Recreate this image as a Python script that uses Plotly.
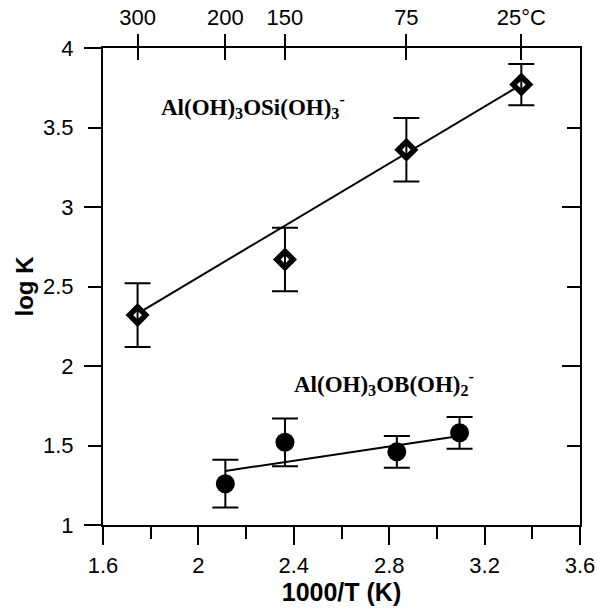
import plotly.graph_objects as go

# ---- data ----
si_x = [1.745, 2.363, 2.872, 3.354]
si_y = [2.32, 2.67, 3.36, 3.77]
si_err = [0.20, 0.20, 0.20, 0.13]

b_x = [2.113, 2.363, 2.832, 3.095]
b_y = [1.26, 1.52, 1.46, 1.58]
b_err = [0.15, 0.15, 0.10, 0.10]

si_fit_x = [1.745, 3.354]
si_fit_y = [2.33, 3.77]
b_fit_x = [2.113, 3.095]
b_fit_y = [1.34, 1.56]

top_vals = [1.745, 2.113, 2.363, 2.872, 3.354]
top_text = ["300", "200", "150", "75", "25°C"]

y_major = [1, 1.5, 2, 2.5, 3, 3.5, 4]
y_int = [1, 2, 3, 4]

XR = [1.6, 3.6]
YR = [1, 4]

SANS = "Liberation Sans"
SERIF = "Liberation Serif"

fig = go.Figure()

fig.add_trace(go.Scatter(x=si_fit_x, y=si_fit_y, mode="lines",
                         line=dict(color="black", width=2), showlegend=False))
fig.add_trace(go.Scatter(x=b_fit_x, y=b_fit_y, mode="lines",
                         line=dict(color="black", width=2), showlegend=False))

fig.add_trace(go.Scatter(x=si_x, y=si_y, mode="markers",
                         marker=dict(symbol="diamond", size=12.5, color="white",
                                     line=dict(color="black", width=5.5)),
                         showlegend=False))
fig.add_trace(go.Scatter(x=si_x, y=si_y, mode="markers",
                         marker=dict(size=1, color="rgba(0,0,0,0)"),
                         error_y=dict(type="data", array=si_err, visible=True,
                                      color="black", thickness=2, width=13),
                         showlegend=False))

fig.add_trace(go.Scatter(x=b_x, y=b_y, mode="markers",
                         marker=dict(symbol="circle", size=19, color="black"),
                         error_y=dict(type="data", array=b_err, visible=True,
                                      color="black", thickness=2, width=13),
                         showlegend=False))

# invisible carrier traces so the overlay axes get drawn
for xa, ya in [("x2", "y"), ("x3", "y"), ("x", "y2"), ("x", "y3"), ("x", "y4")]:
    fig.add_trace(go.Scatter(x=[None], y=[None], xaxis=xa, yaxis=ya,
                             mode="markers", showlegend=False, hoverinfo="skip"))

fig.add_annotation(x=2.229, y=3.63, xref="x", yref="y", showarrow=False,
                   text="<b>Al(OH)<sub>3</sub>OSi(OH)<sub>3</sub><sup>-</sup></b>",
                   font=dict(family=SERIF, size=23, color="black"))
fig.add_annotation(x=2.78, y=1.89, xref="x", yref="y", showarrow=False,
                   text="<b>Al(OH)<sub>3</sub>OB(OH)<sub>2</sub><sup>-</sup></b>",
                   font=dict(family=SERIF, size=23, color="black"))

tickfont = dict(family=SANS, size=22, color="black")

fig.update_layout(
    width=597, height=608,
    margin=dict(l=103, r=17, t=48, b=83, autoexpand=False),
    paper_bgcolor="white", plot_bgcolor="white",
    showlegend=False,
    xaxis=dict(range=XR, tickmode="linear", tick0=1.6, dtick=0.4,
               automargin=False,
               ticks="outside", ticklen=18, tickwidth=1.5, tickcolor="black",
               minor=dict(dtick=0.2, tick0=1.6, ticks="outside", ticklen=12,
                          tickwidth=1.5, tickcolor="black"),
               showline=True, linecolor="black", linewidth=2,
               showgrid=False, zeroline=False, tickfont=tickfont,
               ticklabelstandoff=2,
               title=dict(text="<b>1000/T (K)</b>", standoff=4,
                          font=dict(family=SANS, size=25, color="black"))),
    xaxis2=dict(range=XR, overlaying="x", side="top", anchor="y",
                automargin=False,
                tickmode="array", tickvals=top_vals, ticktext=top_text,
                ticks="outside", ticklen=12, tickwidth=1.5, tickcolor="black",
                showline=True, linecolor="black", linewidth=2,
                showgrid=False, zeroline=False, tickfont=tickfont),
    xaxis3=dict(range=XR, overlaying="x", side="top", anchor="y",
                automargin=False,
                tickmode="array", tickvals=top_vals, showticklabels=False,
                ticks="inside", ticklen=12, tickwidth=1.5, tickcolor="black",
                showline=False, showgrid=False, zeroline=False),
    yaxis=dict(range=YR, tickmode="array", tickvals=y_major,
               automargin=False,
               ticktext=[("%g" % v) for v in y_major],
               ticks="outside", ticklen=13, tickwidth=1.5, tickcolor="black",
               showline=True, linecolor="black", linewidth=2,
               showgrid=False, zeroline=False, tickfont=tickfont,
               ticklabelstandoff=10,
               title=dict(text="<b>log K</b>", standoff=3,
                          font=dict(family=SANS, size=24, color="black"))),
    yaxis2=dict(range=YR, overlaying="y", side="left", anchor="x",
                automargin=False,
                tickmode="array", tickvals=y_int, showticklabels=False,
                ticks="outside", ticklen=18, tickwidth=1.5, tickcolor="black",
                showline=False, showgrid=False, zeroline=False),
    yaxis3=dict(range=YR, overlaying="y", side="right", anchor="x",
                automargin=False,
                tickmode="array", tickvals=y_major, showticklabels=False,
                ticks="inside", ticklen=13, tickwidth=1.5, tickcolor="black",
                showline=True, linecolor="black", linewidth=2,
                showgrid=False, zeroline=False),
    yaxis4=dict(range=YR, overlaying="y", side="right", anchor="x",
                automargin=False,
                tickmode="array", tickvals=y_int, showticklabels=False,
                ticks="inside", ticklen=18, tickwidth=1.5, tickcolor="black",
                showline=False, showgrid=False, zeroline=False),
)

fig.write_html("out.html", config={"displayModeBar": False},
               post_script="document.body.style.margin='0';document.body.style.padding='0';")
